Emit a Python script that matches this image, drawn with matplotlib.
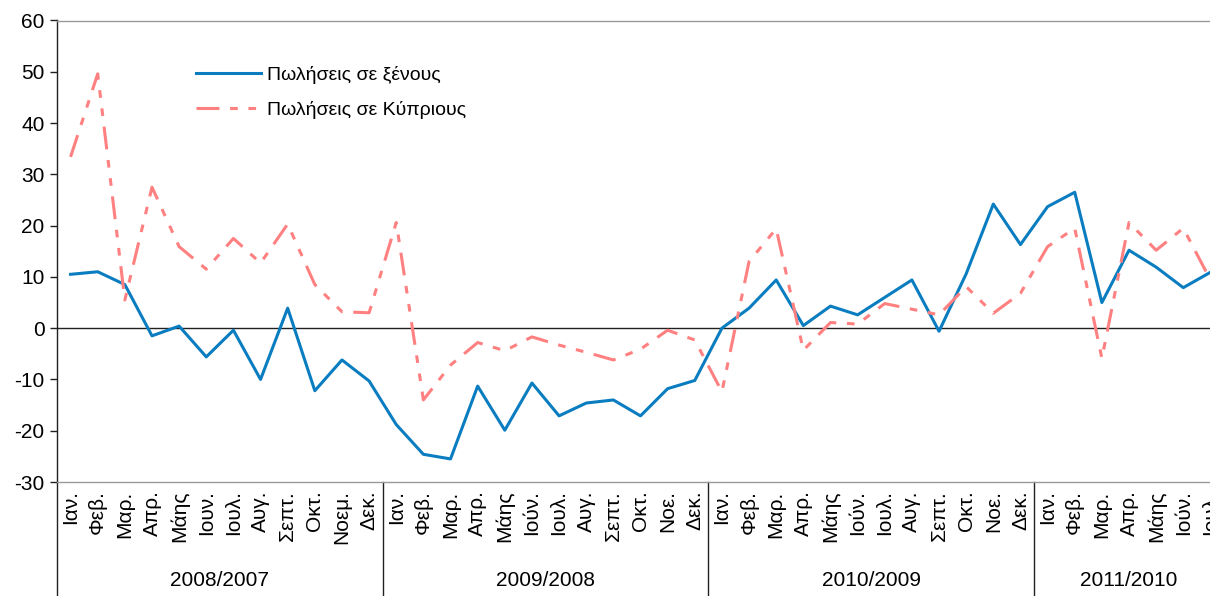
import numpy as np
import matplotlib
matplotlib.use('Agg')
from matplotlib import pyplot as plt
from matplotlib.transforms import blended_transform_factory

plt.rcParams['font.family'] = ['Liberation Sans', 'DejaVu Sans']
plt.rcParams['axes.unicode_minus'] = False

# Μήνες ανά περίοδο
mhnes_1 = ['Ιαν.', 'Φεβ.', 'Μαρ.', 'Απρ.', 'Μάης', 'Ιουν.', 'Ιουλ.', 'Αυγ.', 'Σεπτ.', 'Οκτ.', 'Νοεμ.', 'Δεκ.']
mhnes_2 = ['Ιαν.', 'Φεβ.', 'Μαρ.', 'Απρ.', 'Μάης', 'Ιούν.', 'Ιουλ.', 'Αυγ.', 'Σεπτ.', 'Οκτ.', 'Νοε.', 'Δεκ.']
mhnes_3 = ['Ιαν.', 'Φεβ.', 'Μαρ.', 'Απρ.', 'Μάης', 'Ιούν.', 'Ιουλ.', 'Αυγ.', 'Σεπτ.', 'Οκτ.', 'Νοε.', 'Δεκ.']
mhnes_4 = ['Ιαν.', 'Φεβ.', 'Μαρ.', 'Απρ.', 'Μάης', 'Ιούν.', 'Ιουλ.']
periodoi = ['2008/2007', '2009/2008', '2010/2009', '2011/2010']

# Ποσοστιαία μεταβολή πωλήσεων
xenoi = [10.5, 11.0, 8.5, -1.5, 0.4, -5.6, -0.4, -10.0, 3.9, -12.2, -6.2, -10.3,
         -18.8, -24.6, -25.5, -11.3, -19.9, -10.7, -17.1, -14.6, -14.0, -17.1, -11.8, -10.2,
         0.0, 3.9, 9.4, 0.5, 4.3, 2.6, 6.0, 9.4, -0.6, 10.6, 24.2, 16.3,
         23.7, 26.5, 5.0, 15.2, 11.9, 7.9, 10.9]
kyprioi = [33.4, 49.6, 5.5, 27.5, 15.9, 11.5, 17.5, 12.7, 20.3, 8.5, 3.2, 3.0,
           20.6, -14.0, -7.2, -2.8, -4.4, -1.7, -3.3, -4.7, -6.2, -4.1, -0.4, -2.3,
           -12.4, 13.0, 19.4, -4.3, 1.1, 0.8, 4.8, 3.7, 2.6, 8.1, 2.9, 6.8,
           15.9, 19.5, -5.9, 20.6, 15.2, 19.5, 9.4]

labels = mhnes_1 + mhnes_2 + mhnes_3 + mhnes_4
megethos = [len(mhnes_1), len(mhnes_2), len(mhnes_3), len(mhnes_4)]
x = np.arange(len(labels))

fig = plt.figure(figsize=(12.10, 5.96), dpi=100)
ax = fig.add_axes([57 / 1210, 114 / 596, 1167 / 1210, 461.5 / 596])

ax.plot(x, xenoi, color='#0A7DC0', lw=2.2, label='Πωλήσεις σε ξένους', zorder=3)
ax.plot(x, kyprioi, color='#FF8080', lw=2.2, linestyle=(0, (7.5, 3.5, 2.5, 3.5, 2.5, 3.5)),
        label='Πωλήσεις σε Κύπριους', zorder=3)
ax.axhline(0, color='#202020', lw=1.0, zorder=2)

ax.set_xlim(-0.5, len(labels) - 0.5)
ax.set_ylim(-30, 60)
ax.set_yticks(np.arange(-30, 61, 10))
ax.tick_params(axis='y', direction='out', length=5, width=1, labelsize=15, pad=4, color='#202020')
ax.set_xticks(x)
ax.set_xticklabels(labels, rotation=90, fontsize=15, va='top')
ax.tick_params(axis='x', length=0, pad=6)

ax.spines['right'].set_visible(False)
ax.spines['top'].set_color('#999999')
ax.spines['bottom'].set_color('#999999')
ax.spines['left'].set_color('#202020')
for s in ax.spines.values():
    s.set_linewidth(1.0)

# Διαχωριστικά περιόδων και ετικέτες
trans = blended_transform_factory(ax.transData, ax.transAxes)
arxh = -0.5
for n, p in zip(megethos, periodoi):
    ax.plot([arxh, arxh], [0, -0.26], color='#202020', lw=1.0, transform=trans, clip_on=False)
    ax.text(arxh + n / 2, -0.2145, p, transform=trans, ha='center', va='center', fontsize=15)
    arxh += n

ax.legend(loc='upper left', bbox_to_anchor=(196 / 1210, 1 - 66 / 596), bbox_transform=fig.transFigure,
          frameon=False, fontsize=14, handlelength=3.35, handletextpad=0.3, labelspacing=0.85,
          borderpad=0, borderaxespad=0)

fig.savefig('out.png', dpi=100)
